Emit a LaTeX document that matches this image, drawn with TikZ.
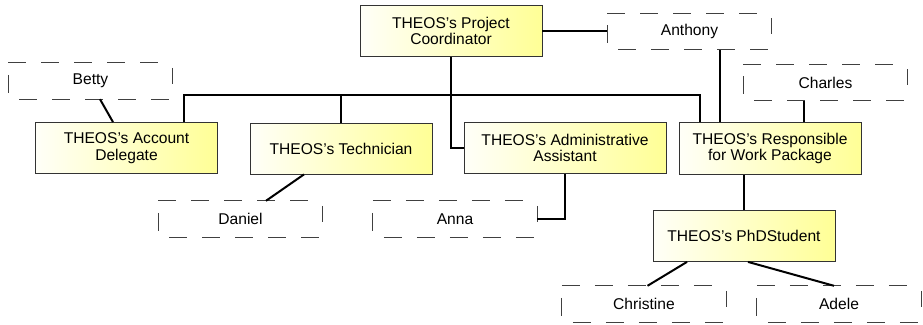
\documentclass[tikz,border=0pt]{standalone}
\usepackage{fontspec}
\setmainfont{Liberation Sans}
\begin{document}
\begin{tikzpicture}[x=1pt,y=-1pt,
  font=\fontsize{15.6}{16.5}\selectfont,
  role/.style={draw=black!80, line width=0.8pt, align=center, inner sep=0pt,
    minimum width=182pt, minimum height=51pt,
    left color={rgb,255:red,255;green,255;blue,248},
    right color={rgb,255:red,255;green,255;blue,150}},
  namedash/.style={draw=black!75, line width=0.9pt, dash pattern=on 18pt off 15pt},
  nameside/.style={draw=black!75, line width=0.9pt},
  person/.style={inner sep=0pt, minimum width=164pt, minimum height=36pt,
    append after command={
      (\tikzlastnode.north west) edge[namedash] (\tikzlastnode.north east)
      (\tikzlastnode.south west) edge[namedash, dash phase=22pt] (\tikzlastnode.south east)
      ([yshift=-12pt]\tikzlastnode.north west) edge[nameside] ([yshift=-30pt]\tikzlastnode.north west)
      ([yshift=-5pt]\tikzlastnode.north east) edge[nameside] ([yshift=-21pt]\tikzlastnode.north east)
    }},
  link/.style={draw=black, line width=2pt}]
\useasboundingbox (0,0) rectangle (923,324);

% role boxes
\node[role] (coord) at (451,31) {THEOS's Project\\Coordinator};
\node[role] (acct)  at (126.5,148) {THEOS's Account\\Delegate};
\node[role] (tech)  at (341,148.5) {THEOS's Technician};
\node[role, minimum width=202pt] (admin) at (565,148) {THEOS's Administrative\\Assistant};
\node[role, minimum height=52pt] (resp) at (770,148.5) {THEOS's Responsible\\for Work Package};
\node[role] (phd)   at (744,236) {THEOS's PhDStudent};

% people
\node[person] (anthony)   at (689.5,31.5) {Anthony};
\node[person] (betty)     at (90.5,81) {Betty};
\node[person] (charles)   at (825.5,82.5) {Charles};
\node[person] (daniel)    at (240.5,219) {Daniel};
\node[person] (anna)      at (455,219) {Anna};
\node[person] (christine) at (644,304) {Christine};
\node[person] (adele)     at (839,304) {Adele};

% hierarchy
\coordinate (bus) at (452,95);
\draw[link] (coord.south) -- (coord.south |- admin.west) -- (admin.west);
\draw[link] ([xshift=57.5pt]acct.north) |- (bus) -| ([xshift=-70pt]resp.north);
\draw[link] (tech.north) -- (tech.north |- bus);
\draw[link] (phd.north) -- (phd.north |- resp.south);

% people to roles
\draw[link] (coord.east) -- (coord.east -| anthony.west);
\draw[link] ([xshift=41pt]resp.north west) -- ([xshift=41pt]resp.north west |- anthony.south);
\draw[link] ([xshift=34pt]resp.north) -- ([xshift=34pt]resp.north |- charles.south);
\draw[link] ([xshift=9.5pt]betty.south) -- ([xshift=-13.5pt]acct.north);
\draw[link] ([xshift=-37pt]tech.south) -- ([xshift=25.5pt]daniel.north);
\draw[link] (admin.south) |- (anna.east);
\draw[link] ([xshift=-57pt]phd.south) -- ([xshift=3.5pt]christine.north);
\draw[link] ([xshift=4pt]phd.south) -- ([xshift=-5pt]adele.north);
\end{tikzpicture}
\end{document}
